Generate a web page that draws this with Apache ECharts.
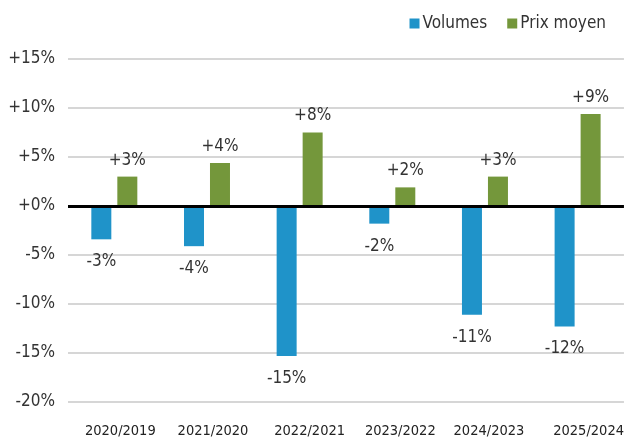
<!DOCTYPE html>
<html><head><meta charset="utf-8">
<script src="https://cdn.jsdelivr.net/npm/echarts@6/dist/echarts.min.js"></script>
<style>html,body{margin:0;padding:0;background:#fff}#c{width:627px;height:439px}</style>
</head><body><div id="c"></div>
<script>
const categories = ['2020/2019','2021/2020','2022/2021','2023/2022','2024/2023','2025/2024'];
const volumes = [-3.4, -4.1, -15.3, -1.8, -11.1, -12.3];
const prixMoyen = [3.0, 4.4, 7.5, 1.9, 3.0, 9.4];
const volumeLabels = ['-3%','-4%','-15%','-2%','-11%','-12%'];
const prixLabels = ['+3%','+4%','+8%','+2%','+3%','+9%'];
const yTicks = { min: -20, max: 15, interval: 5 };

const font = "'Liberation Sans Narrow','DejaVu Sans Condensed','Roboto Condensed',sans-serif";
const labelShift = [12, 12, 20, 16, 8, 22];
const rich = {};
labelShift.forEach((s, i) => { rich['c' + i] = { fontFamily: font, fontSize: 14.5, color: '#222', padding: [0, 0, 0, s] }; });
const chart = echarts.init(document.getElementById('c'), null, {renderer:'canvas'});
chart.setOption({
  animation: false,
  textStyle: { fontFamily: font },
  legend: {
    right: 16, top: 10, itemWidth: 10, itemHeight: 10, itemGap: 20,
    textStyle: { fontFamily: font, fontSize: 17, color: '#333', padding: [0,0,0,-2] },
    data: [{name:'Volumes', icon:'rect'}, {name:'Prix moyen', icon:'rect'}]
  },
  grid: { left: 68, right: 3, top: 59, bottom: 37 },
  xAxis: {
    type: 'category', data: categories,
    axisLine: { show: false }, axisTick: { show: false },
    axisLabel: { fontFamily: font, fontSize: 14.5, color: '#222', margin: 22, interval: 0,
      formatter: (v, i) => '{c' + i + '|' + v + '}', rich: rich }
  },
  yAxis: {
    type: 'value', min: yTicks.min, max: yTicks.max, interval: yTicks.interval,
    axisLine: { show: false }, axisTick: { show: false },
    splitLine: { lineStyle: { color: '#d6d6d6', width: 2 } },
    axisLabel: { fontFamily: font, fontSize: 17, color: '#333', margin: 13,
      formatter: v => (v >= 0 ? '+' : '') + v + '%' }
  },
  series: [
    { name: 'Volumes', type: 'bar', data: volumes, barWidth: 20, barGap: '30%',
      itemStyle: { color: '#1f93c9' },
      label: { show: true, position: 'bottom', distance: 14, fontFamily: font, fontSize: 17, color: '#333',
        formatter: p => volumeLabels[p.dataIndex] },
      markLine: { silent: true, symbol: 'none', label: { show: false },
        lineStyle: { color: '#000', width: 3, type: 'solid' }, data: [{ yAxis: 0 }] }
    },
    { name: 'Prix moyen', type: 'bar', data: prixMoyen, barWidth: 20, barGap: '30%',
      itemStyle: { color: '#74973b' },
      label: { show: true, position: 'top', distance: 8, fontFamily: font, fontSize: 17, color: '#333',
        formatter: p => prixLabels[p.dataIndex] }
    }
  ]
});
</script></body></html>
